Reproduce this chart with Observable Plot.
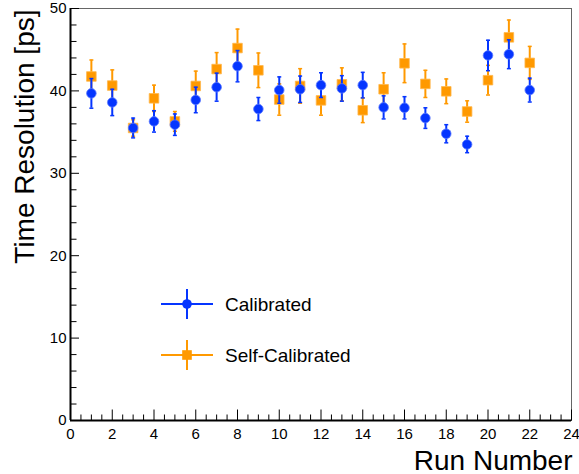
<!DOCTYPE html>
<html><head><meta charset="utf-8">
<script src="https://cdn.jsdelivr.net/npm/d3@7"></script>
<script src="https://cdn.jsdelivr.net/npm/@observablehq/plot@0.6"></script>
<style>
body{margin:0;background:#fff;}
#wrap{position:relative;width:579px;height:474px;font-family:"Liberation Sans",Arial,sans-serif;}
#wrap svg{display:block;}
#legend{position:absolute;left:0;top:0;pointer-events:none;}
</style></head><body><div id="wrap"></div>
<script>
// ---- data ----
const runs = [1,2,3,4,5,6,7,8,9,10,11,12,13,14,15,16,17,18,19,20,21,22];
const calibrated    = [39.7,38.6,35.5,36.3,35.9,38.9,40.45,43.0,37.8,40.1,40.2,40.7,40.3,40.7,38.0,37.95,36.7,34.8,33.5,44.3,44.45,40.1];
const calibratedErr = [1.8,1.6,1.2,1.3,1.3,1.55,1.7,1.9,1.4,1.6,1.6,1.5,1.55,1.55,1.4,1.35,1.25,1.1,1.0,1.85,1.75,1.45];
const selfCal       = [41.75,40.65,35.5,39.1,36.3,40.6,42.65,45.2,42.5,38.95,40.6,38.85,40.8,37.65,40.2,43.35,40.85,39.95,37.5,41.3,46.5,43.4];
const selfCalErr    = [2.0,1.9,1.0,1.6,1.2,1.8,2.0,2.3,2.1,1.9,2.1,1.8,2.0,1.5,2.0,2.35,1.65,1.5,1.3,1.8,2.1,2.0];
const seriesNames = ["Calibrated","Self-Calibrated"];
const xTickLabels = [0,2,4,6,8,10,12,14,16,18,20,22,24];
const yTickLabels = [0,10,20,30,40,50];
const xMinorTicks = d3.range(0,24.01,0.5).filter(v => v % 2 !== 0);
const yMinorTicks = d3.range(0,50.01,2).filter(v => v % 10 !== 0);

const BLUE = "#0535ff", ORANGE = "#ff9900";
const FONT = '"Liberation Sans",Arial,Helvetica,sans-serif';

const calRows = runs.map((r,i)=>({run:r, v:calibrated[i], e:calibratedErr[i]}));
const selfRows = runs.map((r,i)=>({run:r, v:selfCal[i], e:selfCalErr[i]}));

// custom symbols for ROOT-style inward ticks and error-bar caps
const upTick = L => ({draw(ctx){ctx.moveTo(0,0); ctx.lineTo(0,-L);}});
const rightTick = L => ({draw(ctx){ctx.moveTo(0,0); ctx.lineTo(L,0);}});
const cap = w => ({draw(ctx){ctx.moveTo(-w/2,0); ctx.lineTo(w/2,0);}});

function errMarks(rows, color){
  return [
    Plot.ruleX(rows, {x:"run", y1:d=>d.v-d.e, y2:d=>d.v+d.e, stroke:color, strokeWidth:2}),
    Plot.dot(rows, {x:"run", y:d=>d.v+d.e, symbol:cap(4), stroke:color, strokeWidth:1.5, fill:"none"}),
    Plot.dot(rows, {x:"run", y:d=>d.v-d.e, symbol:cap(4), stroke:color, strokeWidth:1.5, fill:"none"})
  ];
}

const chart = Plot.plot({
  width:579, height:474,
  marginLeft:70, marginRight:8, marginTop:8, marginBottom:54,
  style:{fontFamily:FONT, fontSize:"15px", color:"#000", background:"#fff"},
  x:{domain:[0,24]},
  y:{domain:[0,50]},
  marks:[
    Plot.frame({stroke:"#666", strokeWidth:1}),
    // orange first, blue on top
    ...errMarks(selfRows, ORANGE),
    Plot.dot(selfRows, {x:"run", y:"v", symbol:"square", r:5.4, fill:ORANGE, stroke:"#ffb84d", strokeWidth:0.8}),
    ...errMarks(calRows, BLUE),
    Plot.dot(calRows, {x:"run", y:"v", symbol:"circle", r:4.8, fill:BLUE, stroke:"#5c7aff", strokeWidth:0.8}),
    // axes lines
    Plot.ruleX([0], {stroke:"#000", strokeWidth:2}),
    Plot.ruleY([0], {stroke:"#000", strokeWidth:2}),
    // inward ticks
    Plot.dot(xTickLabels, {x:d=>d, frameAnchor:"bottom", symbol:upTick(11), stroke:"#000", strokeWidth:1, fill:"none"}),
    Plot.dot(xMinorTicks, {x:d=>d, frameAnchor:"bottom", symbol:upTick(6), stroke:"#000", strokeWidth:1, fill:"none"}),
    Plot.dot(yTickLabels, {y:d=>d, frameAnchor:"left", symbol:rightTick(8.5), stroke:"#000", strokeWidth:1, fill:"none"}),
    Plot.dot(yMinorTicks, {y:d=>d, frameAnchor:"left", symbol:rightTick(6), stroke:"#000", strokeWidth:1, fill:"none"}),
    // tick labels
    Plot.axisX({ticks:xTickLabels, tickSize:0, tickPadding:8, label:null, fontSize:15}),
    Plot.axisY({ticks:yTickLabels, tickSize:0, tickPadding:4, label:null, fontSize:15}),
    // titles
    Plot.text(["Run Number"], {frameAnchor:"bottom-right", textAnchor:"end", lineAnchor:"bottom", dy:49, dx:1, fontSize:28, fill:"#000"}),
    Plot.text(["Time Resolution [ps]"], {frameAnchor:"top-left", rotate:-90, textAnchor:"end", lineAnchor:"bottom", dx:-37, dy:1, fontSize:28, fill:"#000"})
  ]
});
const wrap = document.getElementById("wrap");
wrap.appendChild(chart);

// ---- legend (inside plot area, ROOT TLegend style) ----
const legendEntries = [
  {label:seriesNames[0], color:BLUE, symbol:"circle"},
  {label:seriesNames[1], color:ORANGE, symbol:"square"}
];
const lg = d3.select(wrap).append("svg").attr("id","legend").attr("width",579).attr("height",474);
legendEntries.forEach((e,i)=>{
  const cy = 304 + i*51;
  const g = lg.append("g");
  g.append("line").attr("x1",161).attr("x2",213).attr("y1",cy).attr("y2",cy).attr("stroke",e.color).attr("stroke-width",2);
  g.append("line").attr("x1",187).attr("x2",187).attr("y1",cy-15).attr("y2",cy+15).attr("stroke",e.color).attr("stroke-width",2);
  if(e.symbol==="circle") g.append("circle").attr("cx",187).attr("cy",cy).attr("r",4.8).attr("fill",e.color);
  else g.append("rect").attr("x",182.2).attr("y",cy-4.8).attr("width",9.6).attr("height",9.6).attr("fill",e.color);
  g.append("text").attr("x",225).attr("y",cy+7).attr("font-family",FONT).attr("font-size",19).attr("fill","#000").text(e.label);
});
</script></body></html>
